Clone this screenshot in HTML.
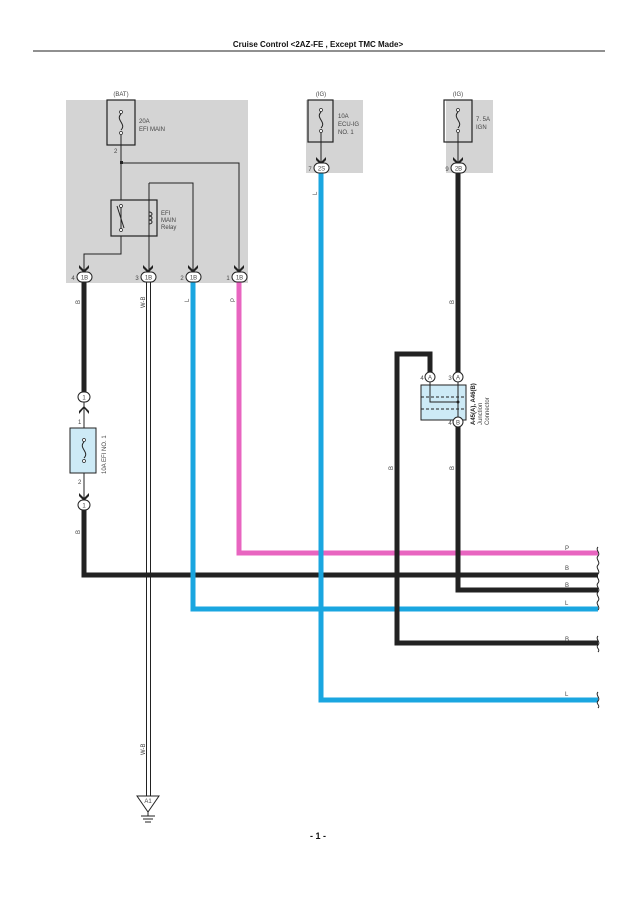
<!DOCTYPE html>
<html><head><style>body{margin:0;background:#fff}svg{display:block}text{font-family:"Liberation Sans",sans-serif;fill:#444}</style></head>
<body>
<svg width="638" height="903" viewBox="0 0 638 903" xmlns="http://www.w3.org/2000/svg">
<defs>
<g id="arr"><path d="M-5,-6 L0,-1 L5,-6 L5,-3 L0,2 L-5,-3Z" fill="#222"/></g>
</defs>
<text x="318" y="47" font-size="8" font-weight="bold" text-anchor="middle" style="fill:#111">Cruise Control &lt;2AZ-FE , Except TMC Made&gt;</text>
<line x1="33" y1="51" x2="605" y2="51" stroke="#222" stroke-width="1"/>
<!-- gray boxes -->
<rect x="66" y="100" width="182" height="183" fill="#d4d4d4"/>
<rect x="306" y="100" width="57" height="73" fill="#d4d4d4"/>
<rect x="446" y="100" width="47" height="73" fill="#d4d4d4"/>
<text x="121" y="96" font-size="6" text-anchor="middle">(BAT)</text>
<text x="321" y="96" font-size="6" text-anchor="middle">(IG)</text>
<text x="458" y="96" font-size="6" text-anchor="middle">(IG)</text>
<!-- fuse 1 -->
<rect x="107" y="100" width="28" height="45" fill="none" stroke="#222" stroke-width="1.2"/>
<path d="M121,114 C115,120 127,124 121,130" fill="none" stroke="#222"/>
<circle cx="121" cy="112" r="1.5" fill="#fff" stroke="#222" stroke-width=".7"/>
<circle cx="121" cy="133" r="1.5" fill="#fff" stroke="#222" stroke-width=".7"/>
<text x="139" y="123" font-size="6">20A</text><text x="139" y="131" font-size="6">EFI MAIN</text>
<text x="114" y="153" font-size="6">2</text>
<g stroke="#222" stroke-width="1" fill="none">
<path d="M121,135 V201"/>
<path d="M121,163 H239 V272"/>
<path d="M149,183 H193 V272"/>
<path d="M149,183 V272"/>
<path d="M121,230 V254 H84 V272"/>
</g>
<rect x="120" y="161" width="3" height="3" fill="#222"/>
<rect x="111" y="200" width="46" height="36" fill="#d4d4d4" stroke="#222" stroke-width="1.2"/>
<line x1="121" y1="205" x2="121" y2="230" stroke="#222"/>
<line x1="117" y1="206" x2="124" y2="228" stroke="#222"/>
<circle cx="121" cy="206" r="1.5" fill="#fff" stroke="#222" stroke-width=".7"/>
<circle cx="121" cy="230" r="1.5" fill="#fff" stroke="#222" stroke-width=".7"/>
<line x1="149" y1="200" x2="149" y2="236" stroke="#222"/>
<path d="M149,212 c4,0 4,4 0,4 c4,0 4,4 0,4 c4,0 4,4 0,4" fill="none" stroke="#222"/>
<text x="161" y="215" font-size="6">EFI</text><text x="161" y="222" font-size="6">MAIN</text><text x="161" y="229" font-size="6">Relay</text>
<!-- fuse 2,3 -->
<rect x="308" y="100" width="25" height="42" fill="none" stroke="#222" stroke-width="1.2"/>
<path d="M321,112 C315,118 327,122 321,128" fill="none" stroke="#222"/>
<circle cx="321" cy="110" r="1.5" fill="#fff" stroke="#222" stroke-width=".7"/>
<circle cx="321" cy="131" r="1.5" fill="#fff" stroke="#222" stroke-width=".7"/>
<line x1="321" y1="133" x2="321" y2="163" stroke="#222"/>
<text x="338" y="118" font-size="6">10A</text><text x="338" y="126" font-size="6">ECU-IG</text><text x="338" y="134" font-size="6">NO. 1</text>
<rect x="444" y="100" width="28" height="42" fill="none" stroke="#222" stroke-width="1.2"/>
<path d="M458,112 C452,118 464,122 458,128" fill="none" stroke="#222"/>
<circle cx="458" cy="110" r="1.5" fill="#fff" stroke="#222" stroke-width=".7"/>
<circle cx="458" cy="131" r="1.5" fill="#fff" stroke="#222" stroke-width=".7"/>
<line x1="458" y1="133" x2="458" y2="163" stroke="#222"/>
<text x="476" y="121" font-size="6">7. 5A</text><text x="476" y="129" font-size="6">IGN</text>
<!-- wires -->
<g fill="none" stroke-linejoin="miter">
<path d="M84,282 V392" stroke="#222" stroke-width="5"/>
<path d="M84,510 V575 H598" stroke="#222" stroke-width="5"/>
<path d="M193,282 V609 H598" stroke="#1aa6e0" stroke-width="5"/>
<path d="M239,282 V553 H598" stroke="#e865c0" stroke-width="5"/>
<path d="M321,173 V700 H598" stroke="#1aa6e0" stroke-width="5"/>
<path d="M458,173 V372" stroke="#222" stroke-width="5"/>
<path d="M458,427 V590 H598" stroke="#222" stroke-width="5"/>
<path d="M430,372 V354 H397 V643 H598" stroke="#222" stroke-width="5"/>
<path d="M146.5,282 V796 M150.5,282 V796" stroke="#222" stroke-width="1"/>
</g>
<!-- connectors -->
<g font-size="6" text-anchor="middle">
<use href="#arr" x="84" y="271"/><use href="#arr" x="148" y="271"/><use href="#arr" x="193" y="271"/><use href="#arr" x="239" y="271"/>
<use href="#arr" x="321" y="163"/><use href="#arr" x="458" y="163"/>
<rect x="77" y="272" width="15" height="10" rx="5" fill="#fff" stroke="#222"/><text x="84.5" y="279.5">1B</text><text x="73" y="280">4</text>
<rect x="141" y="272" width="15" height="10" rx="5" fill="#fff" stroke="#222"/><text x="148.5" y="279.5">1B</text><text x="137" y="280">3</text>
<rect x="186" y="272" width="15" height="10" rx="5" fill="#fff" stroke="#222"/><text x="193.5" y="279.5">1B</text><text x="182" y="280">2</text>
<rect x="232" y="272" width="15" height="10" rx="5" fill="#fff" stroke="#222"/><text x="239.5" y="279.5">1B</text><text x="228" y="280">1</text>
<rect x="314" y="163" width="15" height="10" rx="5" fill="#fff" stroke="#222"/><text x="321.5" y="170.5">2S</text><text x="310" y="171">7</text>
<rect x="451" y="163" width="15" height="10" rx="5" fill="#fff" stroke="#222"/><text x="458.5" y="170.5">2B</text><text x="447" y="171">9</text>
</g>
<!-- fuse EFI NO.1 -->
<line x1="84" y1="400" x2="84" y2="500" stroke="#222"/>
<rect x="78" y="392" width="12" height="10" rx="5" fill="#fff" stroke="#222"/><text x="84" y="399.5" font-size="6" text-anchor="middle">1</text>
<path d="M79,414 L84,408 L89,414 L89,411 L84,406 L79,411Z" fill="#222"/>
<rect x="70" y="428" width="26" height="45" fill="#cdeaf6" stroke="#222"/>
<path d="M84,442 C78,448 90,452 84,458" fill="none" stroke="#222"/>
<circle cx="84" cy="440" r="1.5" fill="#fff" stroke="#222" stroke-width=".7"/>
<circle cx="84" cy="461" r="1.5" fill="#fff" stroke="#222" stroke-width=".7"/>
<text x="78" y="424" font-size="6">1</text><text x="78" y="484" font-size="6">2</text>
<text transform="translate(106,474) rotate(-90)" font-size="6">10A EFI NO. 1</text>
<use href="#arr" x="84" y="499"/>
<rect x="78" y="500" width="12" height="10" rx="5" fill="#fff" stroke="#222"/><text x="84" y="507.5" font-size="6" text-anchor="middle">1</text>
<!-- junction -->
<rect x="421" y="385" width="45" height="35" fill="#cdeaf6" stroke="#222"/>
<path d="M421,397 H466 M421,409 H466" stroke="#222" stroke-dasharray="3,2"/>
<path d="M430,382 V402 H458 M458,382 V420" fill="none" stroke="#222"/>
<circle cx="458" cy="402" r="1.5" fill="#222"/>
<g font-size="6" text-anchor="middle">
<circle cx="430" cy="377" r="5" fill="#fff" stroke="#222"/><text x="430" y="379.5">A</text><text x="422" y="380">4</text>
<circle cx="458" cy="377" r="5" fill="#fff" stroke="#222"/><text x="458" y="379.5">A</text><text x="450" y="380">3</text>
<circle cx="458" cy="422" r="5" fill="#fff" stroke="#222"/><text x="458" y="424.5">B</text><text x="450" y="425">4</text>
</g>
<text transform="translate(475,425) rotate(-90)" font-size="6" font-weight="bold" style="fill:#222">A45(A), A46(B)</text>
<text transform="translate(482,425) rotate(-90)" font-size="6">Junction</text>
<text transform="translate(489,425) rotate(-90)" font-size="6">Connector</text>
<!-- rotated wire labels -->
<g font-size="6">
<text transform="translate(80,304) rotate(-90)">B</text>
<text transform="translate(145,308) rotate(-90)">W-B</text>
<text transform="translate(189,302) rotate(-90)">L</text>
<text transform="translate(235,302) rotate(-90)">P</text>
<text transform="translate(317,195) rotate(-90)">L</text>
<text transform="translate(454,304) rotate(-90)">B</text>
<text transform="translate(454,470) rotate(-90)">B</text>
<text transform="translate(393,470) rotate(-90)">B</text>
<text transform="translate(80,534) rotate(-90)">B</text>
<text transform="translate(145,755) rotate(-90)">W-B</text>
<text x="565" y="550">P</text><text x="565" y="570">B</text><text x="565" y="587">B</text><text x="565" y="605">L</text><text x="565" y="641">B</text><text x="565" y="696">L</text>
</g>
<!-- squiggles -->
<g fill="none" stroke="#222" stroke-width="1">
<path d="M598,547 c-3,3 3,6 0,9 c-3,3 3,6 0,9 c-3,3 3,6 0,9 c-3,3 3,6 0,9 c-3,3 3,6 0,9 c-3,3 3,6 0,9 c-3,3 3,6 0,9"/>
<path d="M598,636 c-3,3 3,6 0,9 c-3,3 3,4 0,7"/>
<path d="M598,692 c-3,3 3,6 0,9 c-3,3 3,4 0,7"/>
</g>
<!-- ground -->
<path d="M137,796 H159 L148,812 Z" fill="#fff" stroke="#222"/>
<text x="148" y="803" font-size="6" text-anchor="middle">A1</text>
<path d="M148,812 V816 M141,816 H155 M143,819 H153 M145,822 H151" stroke="#222" fill="none"/>
<text x="318" y="839" font-size="9" font-weight="bold" text-anchor="middle" style="fill:#111">- 1 -</text>
</svg>
</body></html>
